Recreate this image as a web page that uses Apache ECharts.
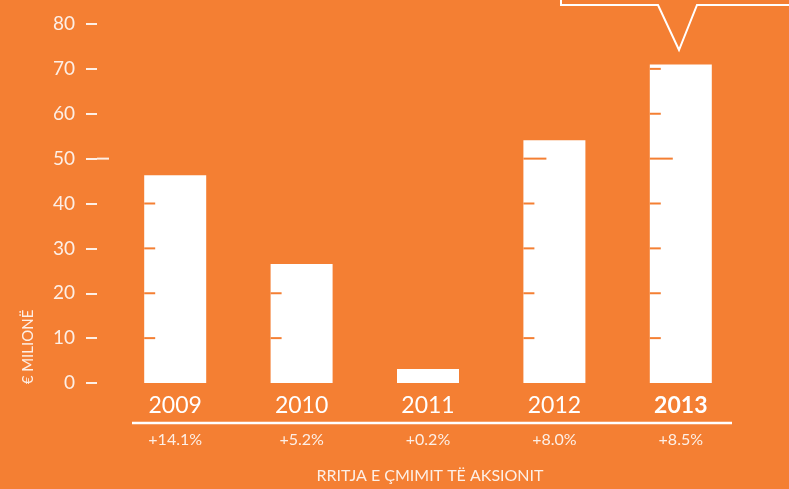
<!DOCTYPE html>
<html>
<head>
<meta charset="utf-8">
<script src="https://cdn.jsdelivr.net/npm/echarts@6/dist/echarts.min.js"></script>
<style>
html,body{margin:0;padding:0;background:#F47F33;}
#main{width:789px;height:489px;}
</style>
</head>
<body>
<div id="main"></div>
<script>
const categories = ['2009', '2010', '2011', '2012', '2013'];
const values = [46.3, 26.5, 3.1, 54.1, 71.0];
const growth = ['+14.1%', '+5.2%', '+0.2%', '+8.0%', '+8.5%'];
const yTicks = [0, 10, 20, 30, 40, 50, 60, 70, 80];
const yName = '€ MILIONË';
const xTitle = 'RRITJA E ÇMIMIT TË AKSIONIT';

const BG = '#F47F33';
const TXT = '#FDEFE6';
const FONT = 'Lato, "Open Sans", sans-serif';
const BAR_W = 62;
const LONG_TICK = 50;

const chart = echarts.init(document.getElementById('main'), null, {renderer: 'canvas'});

const option = {
  backgroundColor: BG,
  animation: false,
  grid: {left: 112, right: 45, top: 24, bottom: 106},
  xAxis: [{
    type: 'category',
    data: categories,
    axisLine: {show: false},
    axisTick: {show: false},
    axisLabel: {
      margin: 11,
      fontFamily: FONT,
      fontSize: 23,
      color: '#FFFFFF',
      formatter: function (v, i) { return i === categories.length - 1 ? '{b|' + v + '}' : v; },
      rich: {b: {fontFamily: FONT, fontSize: 23, fontWeight: 'bold', color: '#FFFFFF'}}
    }
  }, {
    type: 'category',
    position: 'bottom',
    offset: 40,
    data: growth,
    axisLine: {show: false},
    axisTick: {show: false},
    axisLabel: {margin: 9, fontFamily: FONT, fontSize: 16, color: TXT}
  }],
  yAxis: {
    type: 'value',
    min: yTicks[0],
    max: yTicks[yTicks.length - 1],
    interval: 10,
    offset: 15,
    splitLine: {show: false},
    axisLine: {show: false},
    axisTick: {show: true, length: 11, lineStyle: {color: TXT, width: 2}},
    axisLabel: {margin: 22, fontFamily: FONT, fontSize: 19, color: TXT}
  },
  graphic: [
    {type: 'line', shape: {x1: 132, y1: 423, x2: 732, y2: 423}, style: {stroke: '#FFFFFF', lineWidth: 2.5}},
    {type: 'text', x: 430, y: 476, style: {text: xTitle, fill: TXT, font: '16px ' + FONT, textAlign: 'center', textVerticalAlign: 'middle'}},
    {type: 'text', x: 28, y: 347, rotation: Math.PI / 2, style: {text: yName, fill: TXT, font: '15px ' + FONT, textAlign: 'center', textVerticalAlign: 'middle'}},
    {type: 'polyline', shape: {points: [[561, -2], [561, 5], [658, 5], [679, 50], [697, 5], [800, 5]]}, style: {stroke: '#FFFFFF', lineWidth: 2, fill: null}}
  ],
  series: [{
    type: 'bar',
    data: values,
    barWidth: BAR_W,
    itemStyle: {color: '#FFFFFF'},
    z: 2
  }, {
    type: 'custom',
    data: values.map(function (v, i) { return [i, v]; }),
    z: 5,
    renderItem: function (params, api) {
      const i = api.value(0);
      const v = api.value(1);
      const children = [];
      const cx = api.coord([i, 0])[0];
      const left = cx - BAR_W / 2;
      yTicks.forEach(function (t) {
        if (t > 0 && t < v) {
          const y = api.coord([i, t])[1];
          const len = t === LONG_TICK ? 23 : 11;
          children.push({type: 'line', shape: {x1: left, y1: y, x2: left + len, y2: y}, style: {stroke: BG, lineWidth: 2}});
        }
      });
      if (params.dataIndex === 0) {
        const y = api.coord([0, LONG_TICK])[1];
        const ax = params.coordSys.x - 15;
        children.push({type: 'line', shape: {x1: ax, y1: y, x2: ax + 12, y2: y}, style: {stroke: TXT, lineWidth: 2}});
      }
      return {type: 'group', children: children};
    }
  }]
};
chart.setOption(option);
</script>
</body>
</html>
